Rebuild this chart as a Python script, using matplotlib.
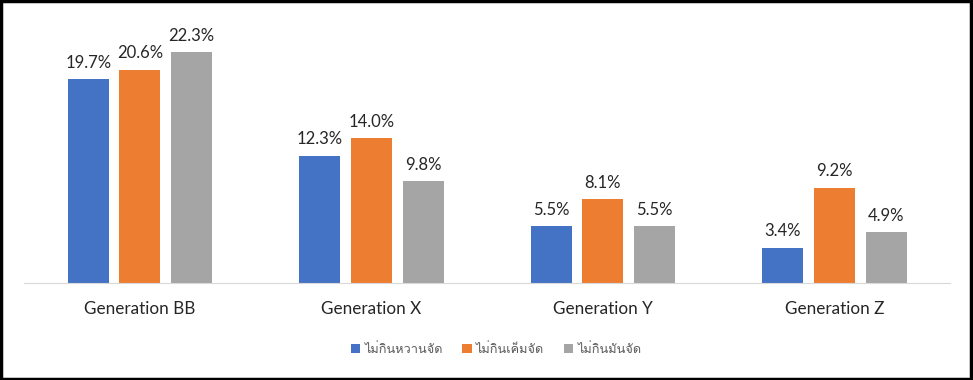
import matplotlib
matplotlib.use("Agg")
import matplotlib.pyplot as plt
from matplotlib import font_manager
from matplotlib.ft2font import FT2Font
from matplotlib.patches import Rectangle
import numpy as np

categories = ["Generation BB", "Generation X", "Generation Y", "Generation Z"]
series_names = ["ไม่กินหวานจัด", "ไม่กินเค็มจัด", "ไม่กินมันจัด"]
sweet = [19.7, 12.3, 5.5, 3.4]
salty = [20.6, 14.0, 8.1, 9.2]
fatty = [22.3, 9.8, 5.5, 4.9]
colors = ["#4472c4", "#ed7d31", "#a5a5a5"]

# find a font that has Thai glyphs
thai_font = None
for f in font_manager.fontManager.ttflist:
    try:
        if 0x0E01 in FT2Font(f.fname).get_charmap():
            thai_font = f.name
            break
    except Exception:
        pass
fams = ["Lato"] + ([thai_font] if thai_font else []) + ["DejaVu Sans"]
plt.rcParams["font.family"] = fams

fig = plt.figure(figsize=(9.73, 3.8), dpi=100)
ax = fig.add_axes([0.0247, 0.2553, 0.952, 0.6816])

x = np.arange(len(categories))
w = 0.177
step = 0.223
for i, (vals, name) in enumerate(zip([sweet, salty, fatty], series_names)):
    bars = ax.bar(x + (i - 1) * step, vals, w, color=colors[i], label=name)
    for b, v in zip(bars, vals):
        ax.annotate(f"{v:.1f}%", (b.get_x() + b.get_width() / 2, v),
                    xytext=(0, 6), textcoords="offset points",
                    ha="center", va="bottom", fontsize=12, color="#262626")

ax.set_xlim(-0.5, len(categories) - 0.5)
ax.set_ylim(0, 25)
ax.set_yticks([])
ax.set_xticks(x)
ax.set_xticklabels(categories, fontsize=12.3, color="#262626")
ax.tick_params(axis="x", length=0, pad=13)
for s in ["top", "right", "left"]:
    ax.spines[s].set_visible(False)
ax.spines["bottom"].set_color("#d9d9d9")

leg = fig.legend(loc="center", bbox_to_anchor=(0.510, 0.082), ncol=3, frameon=False,
                 fontsize=9.2, handlelength=0.75, handleheight=0.75, handletextpad=0.35,
                 columnspacing=1.5)
for t in leg.get_texts():
    t.set_color("#595959")

fig.patches.append(Rectangle((0.001, 0.002), 0.997, 0.995, transform=fig.transFigure,
                             fill=False, edgecolor="black", linewidth=2.5))

fig.savefig("out.png", dpi=100)
